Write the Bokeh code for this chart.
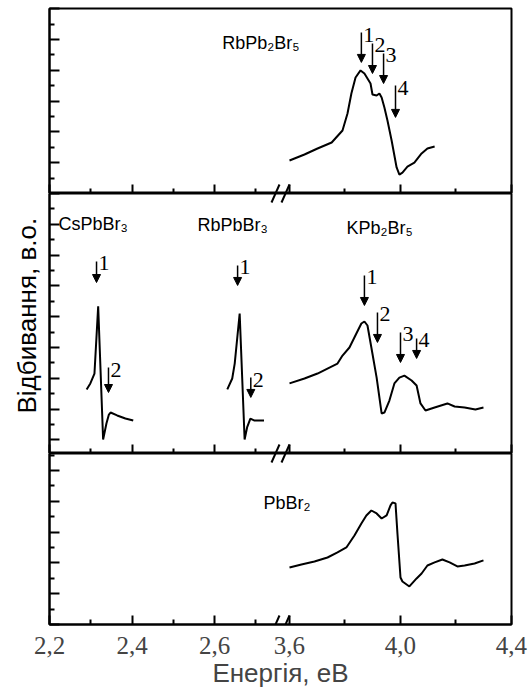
import numpy as np
from bokeh.plotting import figure
from bokeh.layouts import column
from bokeh.models import (Range1d, FixedTicker, LinearAxis, Arrow, NormalHead,
                          Label, Title, ColumnDataSource, CustomJSTickFormatter)
from bokeh.core.properties import value
from bokeh.embed import file_html
from bokeh.resources import INLINE

# ---------------- reflectance spectra (energy in eV, reflectance in arb. units) --------
rbpb2br5_e = [3.600, 3.654, 3.701, 3.752, 3.791, 3.809, 3.823, 3.838, 3.856, 3.870,
              3.892, 3.899, 3.914, 3.924, 3.932, 3.942, 3.953, 3.968, 3.986, 3.996,
              4.007, 4.025, 4.050, 4.076, 4.097, 4.123]
rbpb2br5_r = [2.14, 2.53, 2.92, 3.31, 4.09, 5.19, 6.49, 7.53, 7.99, 7.79,
              7.14, 6.43, 6.36, 6.49, 6.23, 5.58, 4.74, 3.44, 1.69, 1.23,
              1.36, 1.75, 2.01, 2.60, 2.92, 3.05]

cspbbr3_e = [2.290, 2.299, 2.309, 2.318, 2.330, 2.338, 2.344, 2.348, 2.364, 2.384, 2.403]
cspbbr3_r = [5.28, 5.67, 6.31, 10.67, 2.03, 3.07, 3.65, 3.78, 3.59, 3.39, 3.26]

rbpbbr3_e = [2.631, 2.643, 2.649, 2.661, 2.673, 2.679, 2.687, 2.697, 2.720]
rbpbbr3_r = [5.28, 5.99, 6.96, 10.21, 2.03, 2.81, 3.39, 3.26, 3.26]

kpb2br5_e = [3.600, 3.654, 3.701, 3.744, 3.773, 3.791, 3.816, 3.841, 3.859, 3.870,
             3.881, 3.895, 3.914, 3.932, 3.942, 3.960, 3.978, 3.996, 4.014, 4.040,
             4.058, 4.072, 4.090, 4.123, 4.169, 4.195, 4.231, 4.270, 4.299]
kpb2br5_r = [5.67, 5.99, 6.31, 6.70, 6.96, 7.48, 8.00, 8.91, 9.56, 9.69,
             9.43, 8.00, 6.05, 3.72, 3.78, 4.56, 5.67, 6.05, 6.18, 5.86,
             5.53, 4.37, 3.91, 4.11, 4.37, 4.17, 4.11, 3.98, 4.11]

pbbr2_e = [3.600, 3.643, 3.690, 3.737, 3.773, 3.805, 3.834, 3.859, 3.877, 3.895,
           3.914, 3.932, 3.950, 3.964, 3.971, 3.982, 3.989, 4.000, 4.007, 4.032,
           4.058, 4.076, 4.097, 4.123, 4.151, 4.177, 4.205, 4.231, 4.267, 4.299]
pbbr2_r = [3.70, 3.90, 4.09, 4.35, 4.68, 5.00, 5.78, 6.56, 7.08, 7.40,
           7.21, 6.88, 7.08, 7.73, 7.92, 7.86, 5.91, 3.05, 2.79, 2.47,
           2.99, 3.31, 3.83, 4.03, 4.22, 4.03, 3.77, 3.83, 3.96, 4.16]

# ---------------- marked features: energy, arrow top, arrow tip, number --------------
rbpb2br5_mark_e = [3.859, 3.899, 3.939, 3.982]
rbpb2br5_mark_top = [10.45, 9.74, 9.09, 7.01]
rbpb2br5_mark_tip = [8.51, 7.79, 7.14, 4.94]
rbpb2br5_mark_n = ["1", "2", "3", "4"]

cspbbr3_mark_e = [2.314, 2.343]
cspbbr3_mark_top = [13.59, 6.70]
cspbbr3_mark_tip = [12.22, 5.08]
cspbbr3_mark_n = ["1", "2"]

rbpbbr3_mark_e = [2.656, 2.688]
rbpbbr3_mark_top = [13.33, 6.05]
rbpbbr3_mark_tip = [12.03, 4.76]
rbpbbr3_mark_n = ["1", "2"]

kpb2br5_mark_e = [3.870, 3.917, 4.000, 4.058]
kpb2br5_mark_top = [12.68, 10.28, 8.98, 8.59]
kpb2br5_mark_tip = [10.73, 8.33, 7.03, 7.29]
kpb2br5_mark_n = ["1", "2", "3", "4"]

# ---------------- energy axis ----------------------------------------------------
x_major = [2.2, 2.4, 2.6, 3.6, 4.0, 4.4]
x_major_labels = ["2,2", "2,4", "2,6", "3,6", "4,0", "4,4"]
x_minor = [2.3, 2.5, 2.7, 3.8, 4.2]

# broken axis: 2.2-2.76 eV and 3.58-4.4 eV share one axis coordinate
PX_LOW = 412.5     # pixels per eV, low-energy part
PX_HIGH = 277.5    # pixels per eV, high-energy part
U_36 = 2.2 + 240 / PX_LOW
U_END = U_36 + 0.8 * PX_HIGH / PX_LOW
U_BREAK = 2.2 + 231 / PX_LOW
PX_Y = 15.4        # pixels per reflectance unit


def to_u(e):
    e = np.asarray(e, dtype=float)
    return np.where(e < 3.0, e, U_36 + (e - 3.6) * PX_HIGH / PX_LOW)


FRAME_W = 462
SANS = "Liberation Sans"
SERIF = "Liberation Serif"


def panel(y0, y1, frame_h, top_border, bottom_border, labelled):
    p = figure(frame_width=FRAME_W, frame_height=frame_h,
               x_range=Range1d(2.2 - 1e-6, U_END + 1e-6), y_range=Range1d(y0, y1),
               x_axis_type=None, y_axis_type=None,
               output_backend="svg", toolbar_location=None,
               min_border_left=49, min_border_right=17,
               min_border_top=top_border, min_border_bottom=bottom_border)
    p.outline_line_color = "black"
    p.outline_line_width = 2
    p.background_fill_color = "white"
    p.border_fill_color = "white"

    major_u = [float(v) for v in to_u(x_major)]
    minor_u = [float(v) for v in to_u(x_minor)]
    xa = LinearAxis(ticker=FixedTicker(ticks=major_u, minor_ticks=minor_u),
                    major_tick_in=9, major_tick_out=0, minor_tick_in=5, minor_tick_out=0,
                    axis_line_width=2, major_tick_line_width=2, minor_tick_line_width=2)
    if labelled:
        xa.formatter = CustomJSTickFormatter(
            args=dict(pos=major_u, labels=x_major_labels),
            code="""
                let best = '', d = 1e9;
                for (let i = 0; i < pos.length; i++) {
                    const dd = Math.abs(pos[i] - tick);
                    if (dd < d) { d = dd; best = labels[i]; }
                }
                return best;
            """)
        xa.major_label_text_font = SERIF
        xa.major_label_text_font_size = "25px"
        xa.major_label_standoff = 12
        xa.axis_label = "Енергія, еВ"
        xa.axis_label_text_font = SANS
        xa.axis_label_text_font_size = "26px"
        xa.axis_label_text_font_style = "normal"
        xa.axis_label_standoff = 1
    else:
        xa.major_label_text_font_size = "0px"
        xa.major_label_text_color = None
        xa.major_label_standoff = 0
    p.add_layout(xa, "below")

    ya = LinearAxis(ticker=FixedTicker(ticks=list(range(0, 20, 2)),
                                       minor_ticks=list(range(1, 20, 2))),
                    major_tick_in=10, major_tick_out=0, minor_tick_in=5, minor_tick_out=0,
                    axis_line_width=2, major_tick_line_width=2, minor_tick_line_width=2,
                    major_label_text_font_size="0px", major_label_text_color=None,
                    major_label_standoff=0)
    p.add_layout(ya, "left")
    return p


def axis_break(p, y_edge):
    # the "//" sign where the energy axis is interrupted
    dy = 9 / PX_Y
    for dx in (-5, 5):
        x0 = U_BREAK + (dx - 4) / PX_LOW
        x1 = U_BREAK + (dx + 4) / PX_LOW
        p.add_layout(Arrow(x_start=x0, y_start=y_edge - dy, x_end=x1, y_end=y_edge + dy,
                           end=None, line_width=2, line_color="black"))


def spectrum(p, e, r):
    p.line(to_u(e), r, line_color="black", line_width=2)


def marks(p, e, top, tip, nums):
    src = ColumnDataSource(dict(x=to_u(e), top=top, tip=tip, n=nums))
    p.add_layout(Arrow(source=src, x_start="x", y_start="top", x_end="x", y_end="tip",
                       line_width=1.5, line_color="black",
                       end=NormalHead(size=8, fill_color="black", line_color="black",
                                      line_width=1)))
    p.text(x="x", y="top", text="n", source=src, x_offset=2, y_offset=2,
           text_font=value(SERIF), text_font_size="22px", text_color="black",
           text_align="left", text_baseline="alphabetic")


def name(p, x, y, text):
    p.add_layout(Label(x=x, y=y, text=text, text_font=SANS, text_font_size="18px",
                       text_align="left", text_baseline="middle", text_color="black"))


# ---------------- top panel: RbPb2Br5 ---------------------------------------------
top = panel(0, 12.01, 185, 8, 0, False)
spectrum(top, rbpb2br5_e, rbpb2br5_r)
marks(top, rbpb2br5_mark_e, rbpb2br5_mark_top, rbpb2br5_mark_tip, rbpb2br5_mark_n)
name(top, 2.619, 9.74, "RbPb₂Br₅")
axis_break(top, 0)

# ---------------- middle panel: CsPbBr3, RbPbBr3, KPb2Br5 -------------------------
mid = panel(1.12, 18.0, 260, 0, 0, False)
spectrum(mid, cspbbr3_e, cspbbr3_r)
spectrum(mid, rbpbbr3_e, rbpbbr3_r)
spectrum(mid, kpb2br5_e, kpb2br5_r)
marks(mid, cspbbr3_mark_e, cspbbr3_mark_top, cspbbr3_mark_tip, cspbbr3_mark_n)
marks(mid, rbpbbr3_mark_e, rbpbbr3_mark_top, rbpbbr3_mark_tip, rbpbbr3_mark_n)
marks(mid, kpb2br5_mark_e, kpb2br5_mark_top, kpb2br5_mark_tip, kpb2br5_mark_n)
name(mid, 2.222, 16.05, "CsPbBr₃")
name(mid, 2.559, 15.93, "RbPbBr₃")
name(mid, 2.920, 15.73, "KPb₂Br₅")
axis_break(mid, 18.0)
axis_break(mid, 1.12)
# ordinate title, shared by all three panels (starts just above the lower panel)
mid.add_layout(Title(text="Відбивання, в.о.", align="left", offset=40, standoff=16,
                     text_font=SANS, text_font_size="26px", text_font_style="normal",
                     text_color="black"), "left")

# ---------------- bottom panel: PbBr2 --------------------------------------------
bot = panel(0, 11.1, 171, 0, 71, True)
spectrum(bot, pbbr2_e, pbbr2_r)
name(bot, 2.719, 7.86, "PbBr₂")
axis_break(bot, 11.1)
axis_break(bot, 0)

layout = column(top, mid, bot, spacing=0)
open("out.html", "w").write(file_html(layout, INLINE))
